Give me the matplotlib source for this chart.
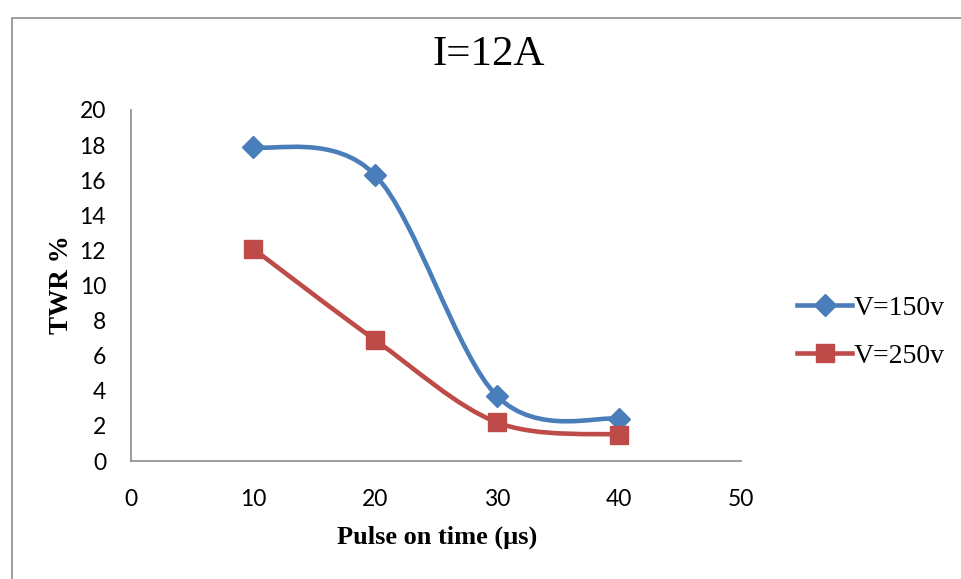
import matplotlib

matplotlib.use("Agg")
import numpy as np
from matplotlib import pyplot as plt
from matplotlib.lines import Line2D
from matplotlib.patches import PathPatch, Rectangle
from matplotlib.path import Path

pulse_on = [10, 20, 30, 40]
twr_150 = [17.9, 16.3, 3.7, 2.4]
twr_250 = [12.1, 6.9, 2.2, 1.5]
series_labels = ["V=150v", "V=250v"]
x_ticks = [0, 10, 20, 30, 40, 50]
y_ticks = [0, 2, 4, 6, 8, 10, 12, 14, 16, 18, 20]

BLUE = "#4A7EBB"
RED = "#BE4B48"


def smooth_path(xs, ys):
    # Excel-style smoothed line: cubic Bezier segments through the points
    pts = np.column_stack([xs, ys]).astype(float)
    padded = np.vstack([pts[0], pts, pts[-1]])
    verts = [tuple(pts[0])]
    codes = [Path.MOVETO]
    for i in range(len(pts) - 1):
        p0, p1, p2, p3 = padded[i], padded[i + 1], padded[i + 2], padded[i + 3]
        c1 = p1 + (p2 - p0) / 6
        c2 = p2 - (p3 - p1) / 6
        verts += [tuple(c1), tuple(c2), tuple(p2)]
        codes += [Path.CURVE4] * 3
    return Path(verts, codes)


fig = plt.figure(figsize=(9.61, 5.79), dpi=100)
fig.patches.append(
    Rectangle((12 / 961, -0.05), 1.2, 1 - 18 / 579 + 0.05, transform=fig.transFigure,
              fill=False, edgecolor="#8c8c8c", linewidth=1.2)
)
ax = fig.add_axes([131 / 961, 1 - 461 / 579, 610 / 961, 351 / 579])

for ys, color, marker, size in [(twr_150, BLUE, "D", 11), (twr_250, RED, "s", 12.5)]:
    ax.add_patch(PathPatch(smooth_path(pulse_on, ys), fill=False, edgecolor=color,
                           linewidth=3.3, capstyle="round", joinstyle="round"))
    ax.plot(pulse_on, ys, linestyle="none", marker=marker, markersize=size,
            color=color, zorder=3)

ax.set_xlim(0, 50)
ax.set_ylim(0, 20)
ax.set_xticks(x_ticks)
ax.set_yticks(y_ticks)
ax.tick_params(length=0, labelsize=16.5)
ax.tick_params(axis="x", pad=20)
ax.tick_params(axis="y", pad=18)
for lbl in ax.get_xticklabels() + ax.get_yticklabels():
    lbl.set_fontfamily("Lato")
for side in ("top", "right"):
    ax.spines[side].set_visible(False)
for side in ("left", "bottom"):
    ax.spines[side].set_color("#8c8c8c")
    ax.spines[side].set_linewidth(1.2)

serif = "Liberation Serif"
fig.text(489 / 961, 1 - 55 / 579, "I=12A", ha="center", va="center",
         fontsize=31, family=serif)
fig.text(437 / 961, 1 - 537 / 579, "Pulse on time (µs)", ha="center", va="center",
         fontsize=19, fontweight="bold", family=serif)
fig.text(62 / 961, 1 - 285 / 579, "TWR %", ha="center", va="center", rotation=90,
         fontsize=19.5, fontweight="bold", family=serif)

handles = [
    Line2D([], [], color=BLUE, linewidth=3.3, marker="D", markersize=11),
    Line2D([], [], color=RED, linewidth=3.3, marker="s", markersize=12.5),
]
fig.legend(handles, series_labels, loc="center left", bbox_to_anchor=(783 / 961, 1 - 332 / 579),
           frameon=False, prop={"family": serif, "size": 20}, handlelength=2.0,
           handletextpad=0.05, labelspacing=0.8, borderpad=0)

fig.savefig("out.png", dpi=100)
